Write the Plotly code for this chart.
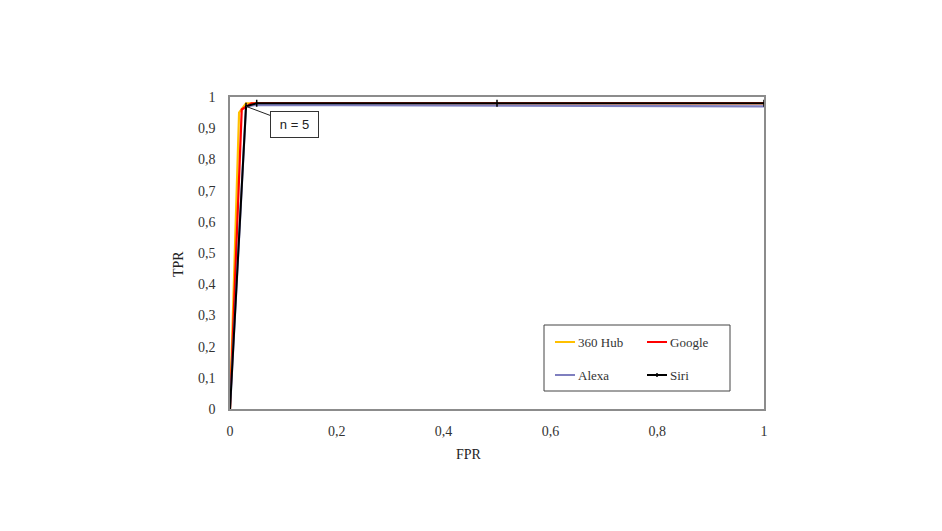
import plotly.graph_objects as go

# Data
hub_fpr = [0, 0.017, 0.03, 1]
hub_tpr = [0, 0.95, 0.98, 0.98]
google_fpr = [0, 0.022, 0.04, 1]
google_tpr = [0, 0.96, 0.98, 0.98]
alexa_fpr = [0, 0.03, 0.05, 1]
alexa_tpr = [0, 0.97, 0.975, 0.97]
siri_fpr = [0, 0.03, 0.05, 0.5, 1]
siri_tpr = [0, 0.97, 0.98, 0.98, 0.98]

series_names = ["360 Hub", "Google", "Alexa", "Siri"]
series_colors = ["#FFC000", "#FF0000", "#7F7FBF", "#000000"]

x_ticks = [0, 0.2, 0.4, 0.6, 0.8, 1]
y_ticks = [0, 0.1, 0.2, 0.3, 0.4, 0.5, 0.6, 0.7, 0.8, 0.9, 1]

serif = "Liberation Serif, Times New Roman, serif"

fig = go.Figure()
data = [(hub_fpr, hub_tpr), (google_fpr, google_tpr), (alexa_fpr, alexa_tpr), (siri_fpr, siri_tpr)]
for (xs, ys), name, col in zip(data, series_names, series_colors):
    if name == "Siri":
        fig.add_trace(go.Scatter(x=xs, y=ys, mode="lines+markers", name=name,
                                 line=dict(color=col, width=2),
                                 marker=dict(symbol="line-ns", size=5,
                                             line=dict(color=col, width=1.5))))
    else:
        fig.add_trace(go.Scatter(x=xs, y=ys, mode="lines", name=name,
                                 line=dict(color=col, width=2.2)))

fig.add_annotation(x=0.03, y=0.97, text="n = 5", showarrow=True, arrowhead=0,
                   arrowwidth=1, arrowcolor="#222", ax=48, ay=18,
                   width=35, height=13, align="center",
                   font=dict(family="Liberation Sans, Arial, sans-serif", size=13, color="#222"),
                   bordercolor="#333", borderwidth=1, borderpad=6, bgcolor="white")

# Manual legend (Excel style) in paper coordinates
def px(sx):
    return (sx - 230) / 534.0

def py(sy):
    return (409 - sy) / 312.0

fig.add_shape(type="rect", xref="paper", yref="paper",
              x0=px(544), x1=px(730), y0=py(391), y1=py(325),
              line=dict(color="#444", width=1), fillcolor="white", layer="above")
leg_pos = [(555, 342), (647, 342), (555, 375), (647, 375)]
for (lx, ly), name, col in zip(leg_pos, series_names, series_colors):
    fig.add_shape(type="line", xref="paper", yref="paper",
                  x0=px(lx), x1=px(lx + 20), y0=py(ly), y1=py(ly),
                  line=dict(color=col, width=2), layer="above")
    if name == "Siri":
        fig.add_shape(type="line", xref="paper", yref="paper",
                      x0=px(lx + 10), x1=px(lx + 10), y0=py(ly - 2), y1=py(ly + 2),
                      line=dict(color=col, width=1.5), layer="above")
    fig.add_annotation(x=px(lx + 21), y=py(ly), xref="paper", yref="paper",
                       text=name, showarrow=False, xanchor="left", yanchor="middle",
                       font=dict(family=serif, size=13, color="#333"))

# Axis titles placed as in the reference
fig.add_annotation(x=px(469), y=py(454), xref="paper", yref="paper", text="FPR",
                   showarrow=False, xanchor="center", yanchor="middle",
                   font=dict(family=serif, size=14, color="#222"))
fig.add_annotation(x=px(178), y=py(264), xref="paper", yref="paper", text="TPR",
                   showarrow=False, xanchor="center", yanchor="middle", textangle=-90,
                   font=dict(family=serif, size=14, color="#222"))

fig.update_layout(
    width=942, height=531,
    margin=dict(l=222, r=186, t=89, b=130),
    paper_bgcolor="white", plot_bgcolor="white",
    separators=", ",
    font=dict(family=serif, size=13, color="#333"),
    showlegend=False,
    xaxis=dict(range=[0, 1], tickvals=x_ticks, showgrid=False, zeroline=False,
               showline=True, mirror=True, linecolor="#8c8c8c", linewidth=1.5,
               ticks="", ticklabelstandoff=8,
               tickfont=dict(family=serif, size=14, color="#333")),
    yaxis=dict(range=[0, 1], tickvals=y_ticks, showgrid=False, zeroline=False,
               showline=True, mirror=True, linecolor="#8c8c8c", linewidth=1.5,
               ticks="", ticklabelstandoff=10,
               tickfont=dict(family=serif, size=14, color="#333")),
)

fig.write_html("out.html")
